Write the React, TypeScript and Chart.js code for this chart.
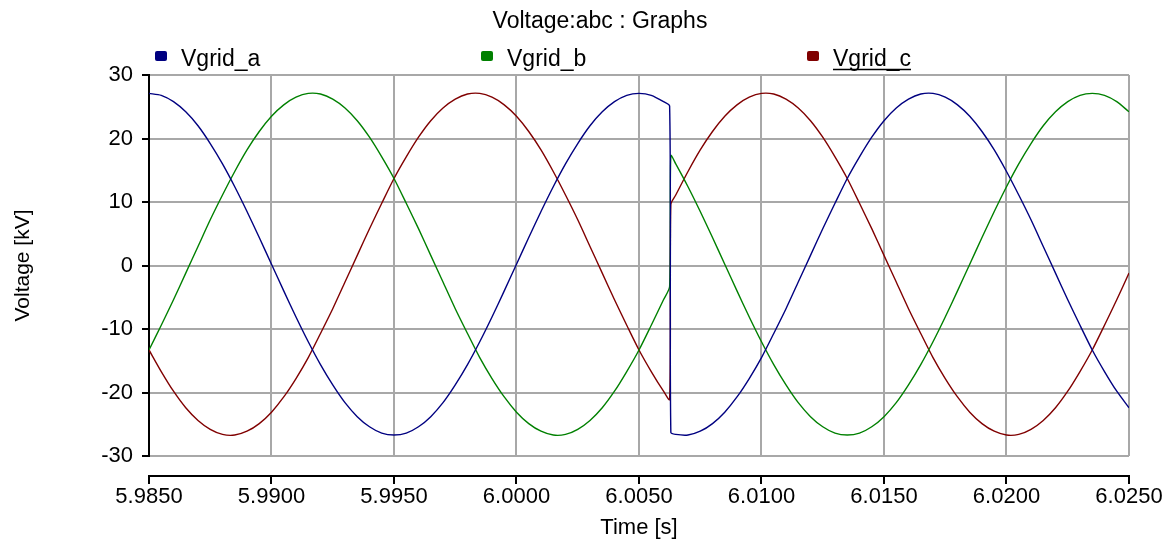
import React, { useEffect, useRef } from "react";
import { Chart, registerables } from "chart.js";

Chart.register(...registerables);

const chartTitle = "Voltage:abc : Graphs";
const xTitle = "Time [s]";
const yTitle = "Voltage [kV]";
const seriesNames = ["Vgrid_a", "Vgrid_b", "Vgrid_c"];
const seriesColors = ["#000080", "#008000", "#800000"];

const xTicks = [5.985, 5.99, 5.995, 6.0, 6.005, 6.01, 6.015, 6.02, 6.025];
const yTicks = [-30, -20, -10, 0, 10, 20, 30];

const timeS = [
  5.985, 5.9855, 5.986, 5.9865, 5.987, 5.9875, 5.988, 5.9885, 5.989, 5.9895,
  5.99, 5.9905, 5.991, 5.9915, 5.992, 5.9925, 5.993, 5.9935, 5.994, 5.9945,
  5.995, 5.9955, 5.996, 5.9965, 5.997, 5.9975, 5.998, 5.9985, 5.999, 5.9995,
  6.0, 6.0005, 6.001, 6.0015, 6.002, 6.0025, 6.003, 6.0035, 6.004, 6.0045,
  6.005, 6.0055, 6.006, 6.00625, 6.0063,
  6.0065, 6.007, 6.0075, 6.008, 6.0085, 6.009, 6.0095,
  6.01, 6.0105, 6.011, 6.0115, 6.012, 6.0125, 6.013, 6.0135, 6.014, 6.0145,
  6.015, 6.0155, 6.016, 6.0165, 6.017, 6.0175, 6.018, 6.0185, 6.019, 6.0195,
  6.02, 6.0205, 6.021, 6.0215, 6.022, 6.0225, 6.023, 6.0235, 6.024, 6.0245,
  6.025,
];

const vgridA = [
  27.1, 26.8, 25.8, 24.2, 22.0, 19.2, 16.0, 12.4, 8.5, 4.4,
  0.2, -4.0, -8.1, -12.0, -15.6, -18.8, -21.6, -23.8, -25.4, -26.4,
  -26.7, -26.4, -25.4, -23.8, -21.6, -18.8, -15.6, -12.0, -8.1, -4.0,
  0.2, 4.4, 8.5, 12.4, 16.0, 19.2, 22.0, 24.2, 25.8, 26.8,
  27.1, 26.8, 25.8, 25.1, -26.3,
  -26.6, -26.7, -26.1, -24.9, -23.1, -20.7, -17.8,
  -14.5, -10.7, -6.8, -2.6, 1.6, 5.8, 9.8, 13.7, 17.1, 20.2,
  22.8, 24.8, 26.2, 27.0, 27.1, 26.5, 25.3, 23.5, 21.1, 18.2,
  14.8, 11.1, 7.2, 3.0, -1.2, -5.4, -9.4, -13.3, -16.7, -19.8,
  -22.4,
];

const vgridB = [
  -13.3, -9.4, -5.4, -1.2, 3.0, 7.2, 11.1, 14.8, 18.2, 21.1,
  23.5, 25.3, 26.5, 27.1, 27.0, 26.2, 24.8, 22.8, 20.2, 17.1,
  13.7, 9.8, 5.8, 1.6, -2.6, -6.8, -10.7, -14.5, -17.8, -20.7,
  -23.1, -24.9, -26.1, -26.7, -26.6, -25.8, -24.4, -22.4, -19.8, -16.7,
  -13.3, -9.4, -5.4, -3.3, 17.3,
  16.0, 12.4, 8.5, 4.4, 0.2, -4.0, -8.1,
  -12.0, -15.6, -18.8, -21.6, -23.8, -25.4, -26.4, -26.7, -26.4, -25.4,
  -23.8, -21.6, -18.8, -15.6, -12.0, -8.1, -4.0, 0.2, 4.4, 8.5,
  12.4, 16.0, 19.2, 22.0, 24.2, 25.8, 26.8, 27.1, 26.8, 25.8,
  24.2,
];

const vgridC = [
  -13.3, -16.7, -19.8, -22.4, -24.4, -25.8, -26.6, -26.7, -26.1, -24.9,
  -23.1, -20.7, -17.8, -14.5, -10.7, -6.8, -2.6, 1.6, 5.8, 9.8,
  13.7, 17.1, 20.2, 22.8, 24.8, 26.2, 27.0, 27.1, 26.5, 25.3,
  23.5, 21.1, 18.2, 14.8, 11.1, 7.2, 3.0, -1.2, -5.4, -9.4,
  -13.3, -16.7, -19.8, -21.1, 9.6,
  11.1, 14.8, 18.2, 21.1, 23.5, 25.3, 26.5,
  27.1, 27.0, 26.2, 24.8, 22.8, 20.2, 17.1, 13.7, 9.8, 5.8,
  1.6, -2.6, -6.8, -10.7, -14.5, -17.8, -20.7, -23.1, -24.9, -26.1,
  -26.7, -26.6, -25.8, -24.4, -22.4, -19.8, -16.7, -13.3, -9.4, -5.4,
  -1.2,
];

const FONT = '"Liberation Sans", Arial, Helvetica, sans-serif';
const GRID = "#a8a8a8";

const decorPlugin = {
  id: "decor",
  afterDraw(chart: any) {
    const { ctx, chartArea } = chart;
    const xs = chart.scales.x;
    ctx.save();
    ctx.fillStyle = "#000";
    ctx.font = `23px ${FONT}`;
    ctx.textAlign = "center";
    ctx.textBaseline = "alphabetic";
    ctx.fillText(chartTitle, 600, 28);

    chart.data.datasets.forEach((ds: any, k: number) => {
      const x0 = chartArea.left + 6 + k * 326;
      ctx.fillStyle = ds.borderColor;
      ctx.beginPath();
      if (ctx.roundRect) ctx.roundRect(x0, 51, 12, 10, 2);
      else ctx.rect(x0, 51, 12, 10);
      ctx.fill();
      ctx.fillStyle = "#000";
      ctx.textAlign = "left";
      ctx.fillText(ds.label, x0 + 26, 66);
      if (k === 2) {
        const w = ctx.measureText(ds.label).width;
        ctx.strokeStyle = "#000";
        ctx.lineWidth = 1.5;
        ctx.beginPath();
        ctx.moveTo(x0 + 26, 69.5);
        ctx.lineTo(x0 + 26 + w, 69.5);
        ctx.stroke();
      }
    });

    const yAxis = chartArea.bottom + 20;
    ctx.strokeStyle = "#000";
    ctx.lineWidth = 2;
    ctx.beginPath();
    ctx.moveTo(chartArea.left - 1, yAxis);
    ctx.lineTo(chartArea.right + 1, yAxis);
    ctx.stroke();
    xs.ticks.forEach((t: any) => {
      const px = Math.round(xs.getPixelForValue(t.value));
      ctx.beginPath();
      ctx.moveTo(px, yAxis);
      ctx.lineTo(px, yAxis + 8);
      ctx.stroke();
    });
    ctx.restore();
  },
};

export default function App() {
  const ref = useRef<HTMLCanvasElement | null>(null);
  useEffect(() => {
    if (!ref.current) return;
    const mk = (arr: number[]) => timeS.map((t, i) => ({ x: t, y: arr[i] }));
    const chart = new Chart(ref.current, {
      type: "line",
      data: {
        datasets: [vgridA, vgridB, vgridC].map((arr, k) => ({
          label: seriesNames[k],
          data: mk(arr),
          borderColor: seriesColors[k],
          backgroundColor: seriesColors[k],
          borderWidth: 1.4,
          pointRadius: 0,
          tension: 0.25,
          fill: false,
        })),
      },
      options: {
        responsive: false,
        animation: false,
        devicePixelRatio: 1,
        layout: { padding: { top: 75, right: 39, left: 0, bottom: 0 } },
        plugins: {
          legend: { display: false },
          title: { display: false },
          tooltip: { enabled: false },
        },
        scales: {
          x: {
            type: "linear",
            min: 5.985,
            max: 6.025,
            afterFit: (s: any) => {
              s.height = 86;
              s.paddingLeft = 0;
              s.paddingRight = 0;
            },
            afterBuildTicks: (s: any) => {
              s.ticks = xTicks.map((v) => ({ value: v }));
            },
            border: { display: false },
            grid: {
              color: (c: any) => (c.index === 0 ? "rgba(0,0,0,0)" : GRID),
              lineWidth: 2,
              drawTicks: false,
            },
            ticks: {
              color: "#000",
              padding: 28,
              maxRotation: 0,
              autoSkip: false,
              font: { family: FONT, size: 22 },
              callback: (v: any) => Number(v).toFixed(4),
            },
            title: {
              display: true,
              text: xTitle,
              color: "#000",
              font: { family: FONT, size: 22 },
              padding: { top: 0, bottom: 1 },
            },
          },
          y: {
            type: "linear",
            min: -30,
            max: 30,
            afterFit: (s: any) => {
              s.width = 149;
              s.paddingTop = 0;
              s.paddingBottom = 0;
            },
            afterBuildTicks: (s: any) => {
              s.ticks = yTicks.map((v) => ({ value: v }));
            },
            border: { display: true, color: "#000", width: 2 },
            grid: {
              color: GRID,
              lineWidth: 2,
              tickColor: "#000",
              tickLength: 7,
              tickWidth: 2,
            },
            ticks: {
              color: "#000",
              padding: 9,
              font: { family: FONT, size: 22 },
              callback: (v: any) => String(v),
            },
            title: {
              display: true,
              text: yTitle,
              color: "#000",
              font: { family: FONT, size: 21 },
              padding: { top: 11, bottom: 0 },
            },
          },
        },
      },
      plugins: [decorPlugin],
    });
    return () => chart.destroy();
  }, []);

  return (
    <div
      style={{
        position: "fixed",
        left: 0,
        top: 0,
        width: 1168,
        height: 542,
        background: "#fff",
      }}
    >
      <canvas ref={ref} width={1168} height={542} style={{ display: "block" }} />
    </div>
  );
}
